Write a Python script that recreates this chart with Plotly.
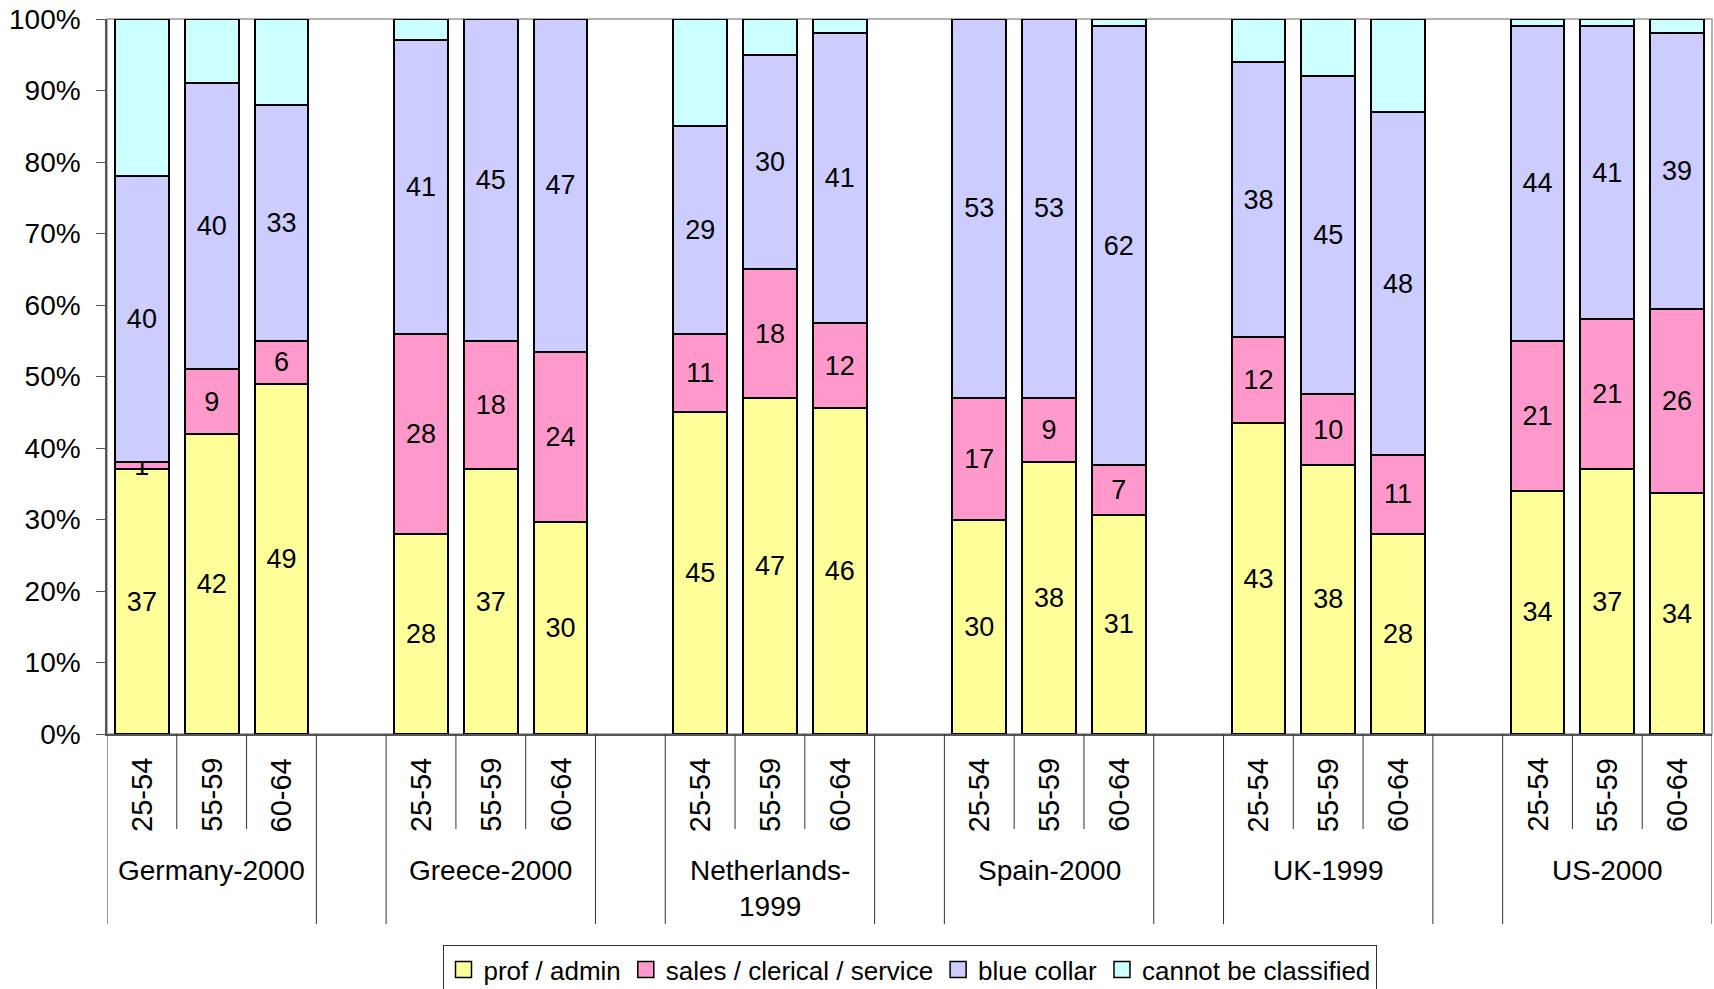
import plotly.graph_objects as go

# Occupational mix of employed men by age band, per country/survey year
groups = ["Germany-2000", "Greece-2000", "Netherlands-<br>1999", "Spain-2000", "UK-1999", "US-2000"]
ages = ["25-54", "55-59", "60-64"]

prof_admin = [37, 42, 49, 28, 37, 30, 45, 47, 46, 30, 38, 31, 43, 38, 28, 34, 37, 34]
sales_clerical = [1, 9, 6, 28, 18, 24, 11, 18, 12, 17, 9, 7, 12, 10, 11, 21, 21, 26]
blue_collar = [40, 40, 33, 41, 45, 47, 29, 30, 41, 53, 53, 62, 38, 45, 48, 44, 41, 39]
unclassified = [22, 9, 12, 3, 0, 0, 15, 5, 2, 0, 0, 1, 6, 8, 13, 1, 1, 2]

y_ticks = list(range(0, 101, 10))
y_tick_labels = [f"{v}%" for v in y_ticks]

series = [
    ("prof / admin", prof_admin, "#FFFF99", True),
    ("sales / clerical / service", sales_clerical, "#FF99CC", True),
    ("blue collar", blue_collar, "#CCCCFF", True),
    ("cannot be classified", unclassified, "#CCFFFF", False),
]

FONT = "Arial, Liberation Sans, sans-serif"
slots_per_group = len(ages) + 1          # one empty slot between groups
n_slots = len(groups) * slots_per_group - 1

# slot position of each bar
xpos = [g * slots_per_group + a for g in range(len(groups)) for a in range(len(ages))]

fig = go.Figure()
for name, vals, color, labelled in series:
    fig.add_trace(go.Bar(
        x=xpos, y=vals, name=name, width=0.77, showlegend=False,
        marker=dict(color=color, line=dict(color="black", width=2)),
        text=[str(v) for v in vals] if labelled else None,
        textposition="inside" if labelled else "none",
        insidetextanchor="middle", textangle=0,
        textfont=dict(family=FONT, size=27, color="black"),
    ))

# legend keys: larger square swatches with a black outline
for name, vals, color, labelled in series:
    fig.add_trace(go.Scatter(
        x=[None], y=[None], mode="markers", name=name,
        marker=dict(symbol="square", size=16, color=color,
                    line=dict(color="black", width=1.5)),
    ))

annotations = []
shapes = []

# age band labels under each bar
for i, x in enumerate(xpos):
    annotations.append(dict(
        x=x, y=0, xref="x", yref="paper", text=ages[i % len(ages)],
        textangle=-90, showarrow=False, yanchor="middle", yshift=-61,
        font=dict(family=FONT, size=29, color="black"),
    ))

# country labels centred under each group
for g, label in enumerate(groups):
    annotations.append(dict(
        x=g * slots_per_group + 1, y=0, xref="x", yref="paper", text=label,
        showarrow=False, yanchor="top", yshift=-119,
        font=dict(family=FONT, size=28, color="black"),
    ))

# category divider lines below the axis
for b in range(n_slots + 1):
    edge = b - 0.5
    within = (b % slots_per_group) in (1, 2)
    shapes.append(dict(
        type="line", xref="x", yref="paper", ysizemode="pixel", yanchor=0,
        x0=edge, x1=edge, y0=0, y1=-95 if within else -190,
        line=dict(color="#333333", width=1),
    ))

# plot area border
shapes.append(dict(
    type="rect", xref="paper", yref="paper", x0=0, x1=1, y0=0, y1=1,
    line=dict(color="#999999", width=1.5), layer="below",
))

fig.update_layout(
    barmode="stack", barnorm="percent",
    width=1714, height=989,
    margin=dict(l=107, r=2, t=19, b=255, autoexpand=False),
    paper_bgcolor="white", plot_bgcolor="white",
    font=dict(family=FONT, size=28, color="black"),
    uniformtext=dict(minsize=27, mode="show"),
    showlegend=True,
    legend=dict(
        orientation="h", x=0.5, xanchor="center", y=-0.2951, yanchor="top",
        traceorder="normal", bordercolor="#333333", borderwidth=1,
        font=dict(family=FONT, size=26, color="black"),
        itemwidth=30, tracegroupgap=0,
    ),
    xaxis=dict(
        range=[-0.5, n_slots - 0.5], showticklabels=False, ticks="",
        showgrid=False, zeroline=False, showline=True, linecolor="#555555",
        linewidth=1.5, fixedrange=True,
    ),
    yaxis=dict(
        range=[0, 100], tickmode="array", tickvals=y_ticks, ticktext=y_tick_labels,
        ticks="outside", ticklen=9, tickcolor="#555555", ticklabelstandoff=10,
        showgrid=False, zeroline=False, showline=True, linecolor="#555555",
        linewidth=1.5, tickfont=dict(family=FONT, size=28, color="black"),
    ),
    annotations=annotations,
    shapes=shapes,
)

fig.write_html("out.html")
